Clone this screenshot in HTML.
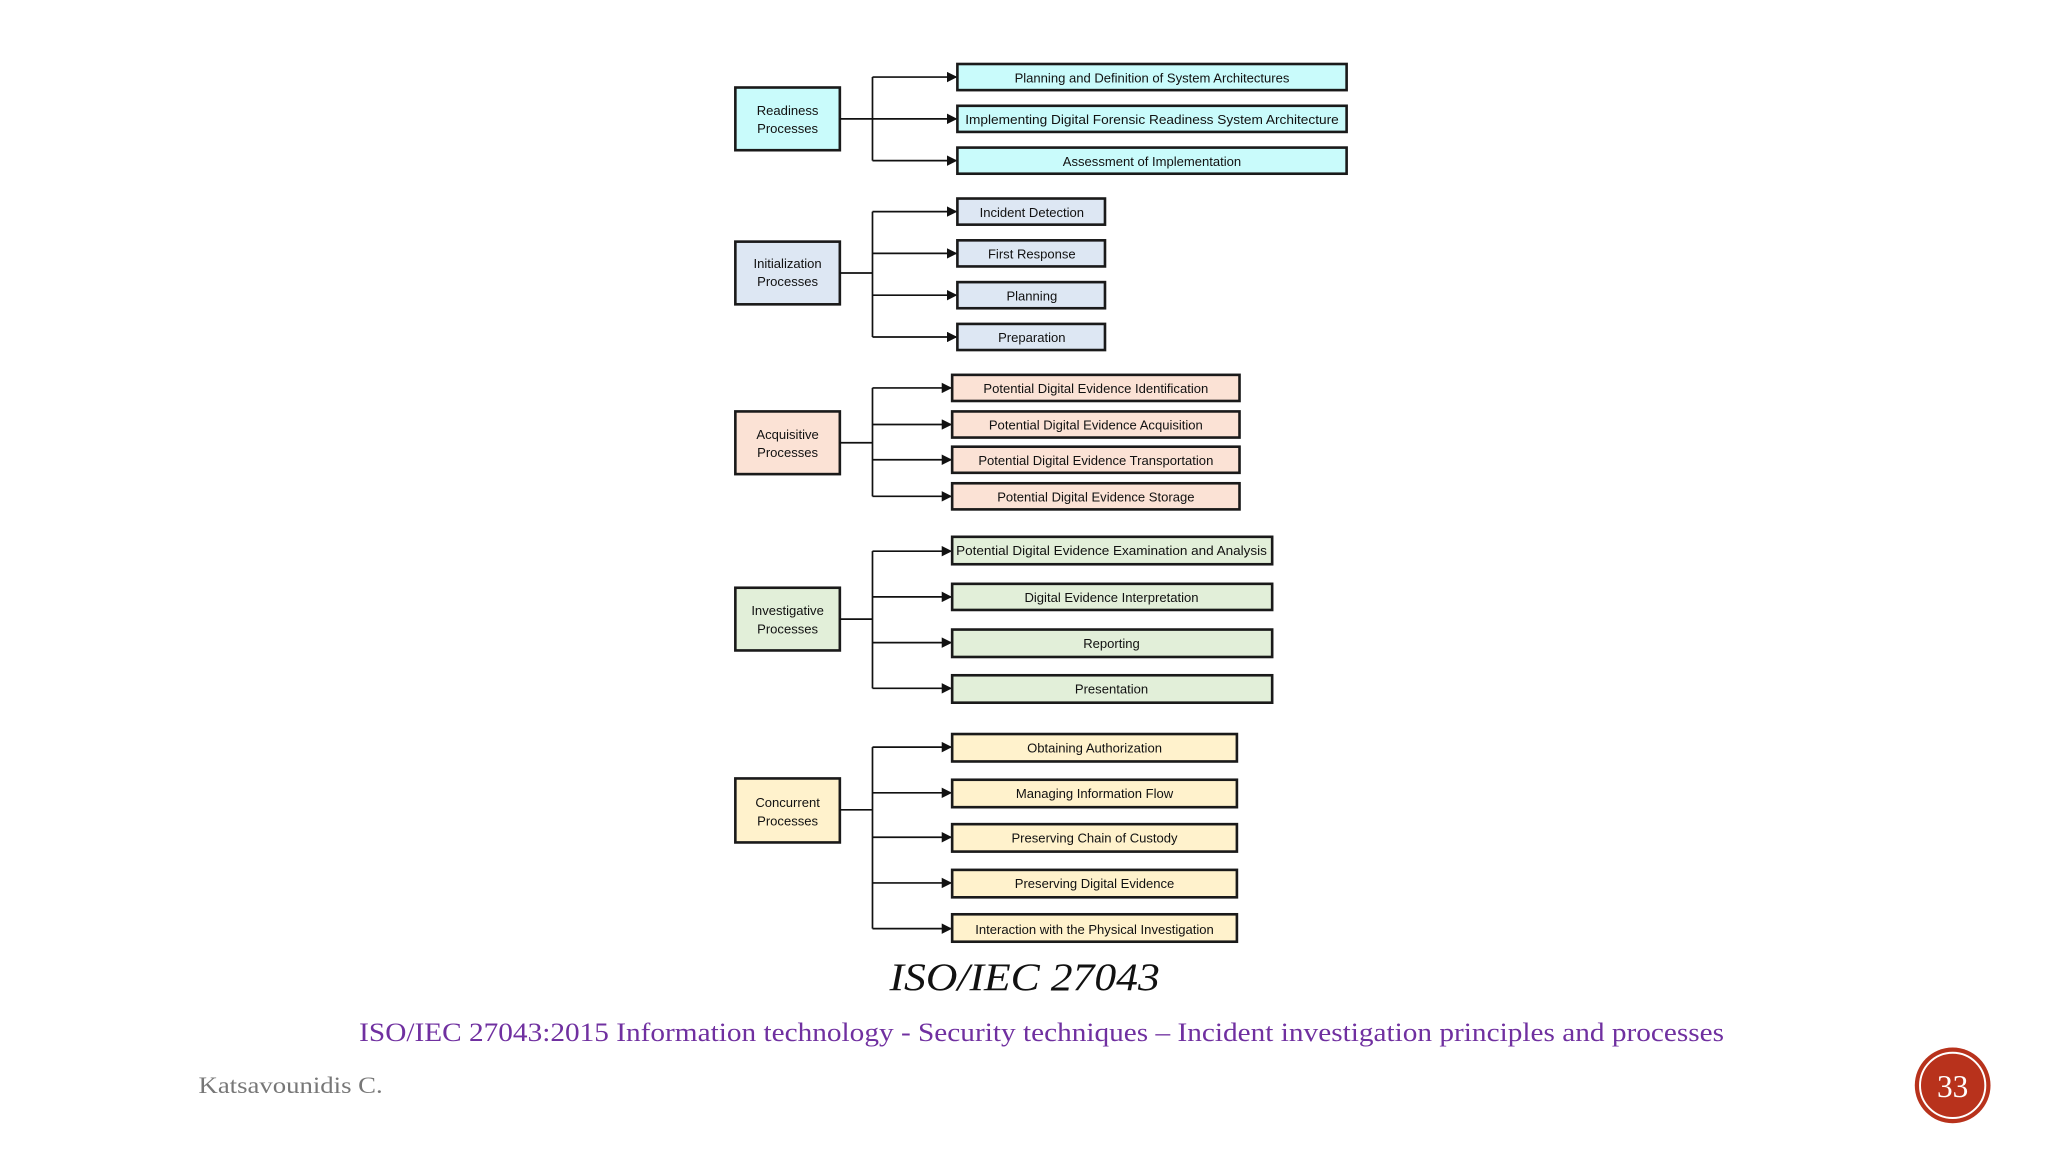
<!DOCTYPE html>
<html><head><meta charset="utf-8"><style>
html,body{margin:0;padding:0;background:#fff;}
svg{display:block;}
.b{stroke:#1a1a1a;stroke-width:2;}
.c{font-family:"Liberation Sans",sans-serif;font-size:10px;fill:#111;text-anchor:middle;}
.l{stroke:#111;stroke-width:1.3;fill:none;}
</style></head><body>
<svg width="2048" height="1152" viewBox="0 0 1568 882" xmlns="http://www.w3.org/2000/svg">
<defs><marker id="a" markerWidth="8" markerHeight="8" refX="7" refY="4" orient="auto" markerUnits="userSpaceOnUse"><path d="M0,0 L8,4 L0,8z" fill="#111"/></marker></defs>

<!-- Readiness -->
<rect class="b" x="563" y="67" width="80" height="48" fill="#c9fbfb"/>
<text class="c" x="603" y="88">Readiness</text><text class="c" x="603" y="102">Processes</text>
<path class="l" d="M643,91 H668 M668,59 V123"/>
<path class="l" d="M668,59 H732" marker-end="url(#a)"/><path class="l" d="M668,91 H732" marker-end="url(#a)"/><path class="l" d="M668,123 H732" marker-end="url(#a)"/>
<rect class="b" x="733" y="49" width="298" height="20" fill="#c9fbfb"/><text class="c" x="882" y="63">Planning and Definition of System Architectures</text>
<rect class="b" x="733" y="81" width="298" height="20" fill="#c9fbfb"/><text class="c" x="882" y="95" textLength="286" lengthAdjust="spacingAndGlyphs">Implementing Digital Forensic Readiness System Architecture</text>
<rect class="b" x="733" y="113" width="298" height="20" fill="#c9fbfb"/><text class="c" x="882" y="127">Assessment of Implementation</text>

<!-- Initialization -->
<rect class="b" x="563" y="185" width="80" height="48" fill="#dde7f3"/>
<text class="c" x="603" y="205">Initialization</text><text class="c" x="603" y="219">Processes</text>
<path class="l" d="M643,209 H668 M668,162 V258"/>
<path class="l" d="M668,162 H732" marker-end="url(#a)"/><path class="l" d="M668,194 H732" marker-end="url(#a)"/><path class="l" d="M668,226 H732" marker-end="url(#a)"/><path class="l" d="M668,258 H732" marker-end="url(#a)"/>
<rect class="b" x="733" y="152" width="113" height="20" fill="#dde7f3"/><text class="c" x="790" y="166">Incident Detection</text>
<rect class="b" x="733" y="184" width="113" height="20" fill="#dde7f3"/><text class="c" x="790" y="198">First Response</text>
<rect class="b" x="733" y="216" width="113" height="20" fill="#dde7f3"/><text class="c" x="790" y="230">Planning</text>
<rect class="b" x="733" y="248" width="113" height="20" fill="#dde7f3"/><text class="c" x="790" y="262">Preparation</text>

<!-- Acquisitive -->
<rect class="b" x="563" y="315" width="80" height="48" fill="#fbe2d5"/>
<text class="c" x="603" y="336">Acquisitive</text><text class="c" x="603" y="350">Processes</text>
<path class="l" d="M643,339 H668 M668,297 V380"/>
<path class="l" d="M668,297 H728" marker-end="url(#a)"/><path class="l" d="M668,325 H728" marker-end="url(#a)"/><path class="l" d="M668,352 H728" marker-end="url(#a)"/><path class="l" d="M668,380 H728" marker-end="url(#a)"/>
<rect class="b" x="729" y="287" width="220" height="20" fill="#fbe2d5"/><text class="c" x="839" y="301">Potential Digital Evidence Identification</text>
<rect class="b" x="729" y="315" width="220" height="20" fill="#fbe2d5"/><text class="c" x="839" y="329">Potential Digital Evidence Acquisition</text>
<rect class="b" x="729" y="342" width="220" height="20" fill="#fbe2d5"/><text class="c" x="839" y="356">Potential Digital Evidence Transportation</text>
<rect class="b" x="729" y="370" width="220" height="20" fill="#fbe2d5"/><text class="c" x="839" y="384">Potential Digital Evidence Storage</text>

<!-- Investigative -->
<rect class="b" x="563" y="450" width="80" height="48" fill="#e2efd9"/>
<text class="c" x="603" y="471">Investigative</text><text class="c" x="603" y="485">Processes</text>
<path class="l" d="M643,474 H668 M668,422 V527"/>
<path class="l" d="M668,422 H728" marker-end="url(#a)"/><path class="l" d="M668,457 H728" marker-end="url(#a)"/><path class="l" d="M668,492 H728" marker-end="url(#a)"/><path class="l" d="M668,527 H728" marker-end="url(#a)"/>
<rect class="b" x="729" y="411" width="245" height="21" fill="#e2efd9"/><text class="c" x="851" y="425" textLength="238" lengthAdjust="spacingAndGlyphs">Potential Digital Evidence Examination and Analysis</text>
<rect class="b" x="729" y="447" width="245" height="20" fill="#e2efd9"/><text class="c" x="851" y="461">Digital Evidence Interpretation</text>
<rect class="b" x="729" y="482" width="245" height="21" fill="#e2efd9"/><text class="c" x="851" y="496">Reporting</text>
<rect class="b" x="729" y="517" width="245" height="21" fill="#e2efd9"/><text class="c" x="851" y="531">Presentation</text>

<!-- Concurrent -->
<rect class="b" x="563" y="596" width="80" height="49" fill="#fff2cc"/>
<text class="c" x="603" y="618">Concurrent</text><text class="c" x="603" y="632">Processes</text>
<path class="l" d="M643,620 H668 M668,572 V711"/>
<path class="l" d="M668,572 H728" marker-end="url(#a)"/><path class="l" d="M668,607 H728" marker-end="url(#a)"/><path class="l" d="M668,641 H728" marker-end="url(#a)"/><path class="l" d="M668,676 H728" marker-end="url(#a)"/><path class="l" d="M668,711 H728" marker-end="url(#a)"/>
<rect class="b" x="729" y="562" width="218" height="21" fill="#fff2cc"/><text class="c" x="838" y="576">Obtaining Authorization</text>
<rect class="b" x="729" y="597" width="218" height="21" fill="#fff2cc"/><text class="c" x="838" y="611">Managing Information Flow</text>
<rect class="b" x="729" y="631" width="218" height="21" fill="#fff2cc"/><text class="c" x="838" y="645">Preserving Chain of Custody</text>
<rect class="b" x="729" y="666" width="218" height="21" fill="#fff2cc"/><text class="c" x="838" y="680">Preserving Digital Evidence</text>
<rect class="b" x="729" y="700" width="218" height="21" fill="#fff2cc"/><text class="c" x="838" y="715">Interaction with the Physical Investigation</text>

<text x="681" y="758" font-family="Liberation Serif,serif" font-style="italic" font-size="30" textLength="207" lengthAdjust="spacingAndGlyphs" fill="#111">ISO/IEC 27043</text>
<text x="275" y="797" font-family="Liberation Serif,serif" font-size="20" textLength="1045" lengthAdjust="spacingAndGlyphs" fill="#7030a0">ISO/IEC 27043:2015 Information technology - Security techniques – Incident investigation principles and processes</text>
<text x="152" y="837" font-family="Liberation Serif,serif" font-size="18" textLength="141" lengthAdjust="spacingAndGlyphs" fill="#777">Katsavounidis C.</text>
<circle cx="1495" cy="831" r="29" fill="#b8321c"/>
<circle cx="1495" cy="831" r="25" fill="none" stroke="#fff" stroke-width="1.5"/>
<text x="1495" y="840" text-anchor="middle" font-family="Liberation Serif,serif" font-size="24" fill="#fff">33</text>
</svg>
</body></html>
